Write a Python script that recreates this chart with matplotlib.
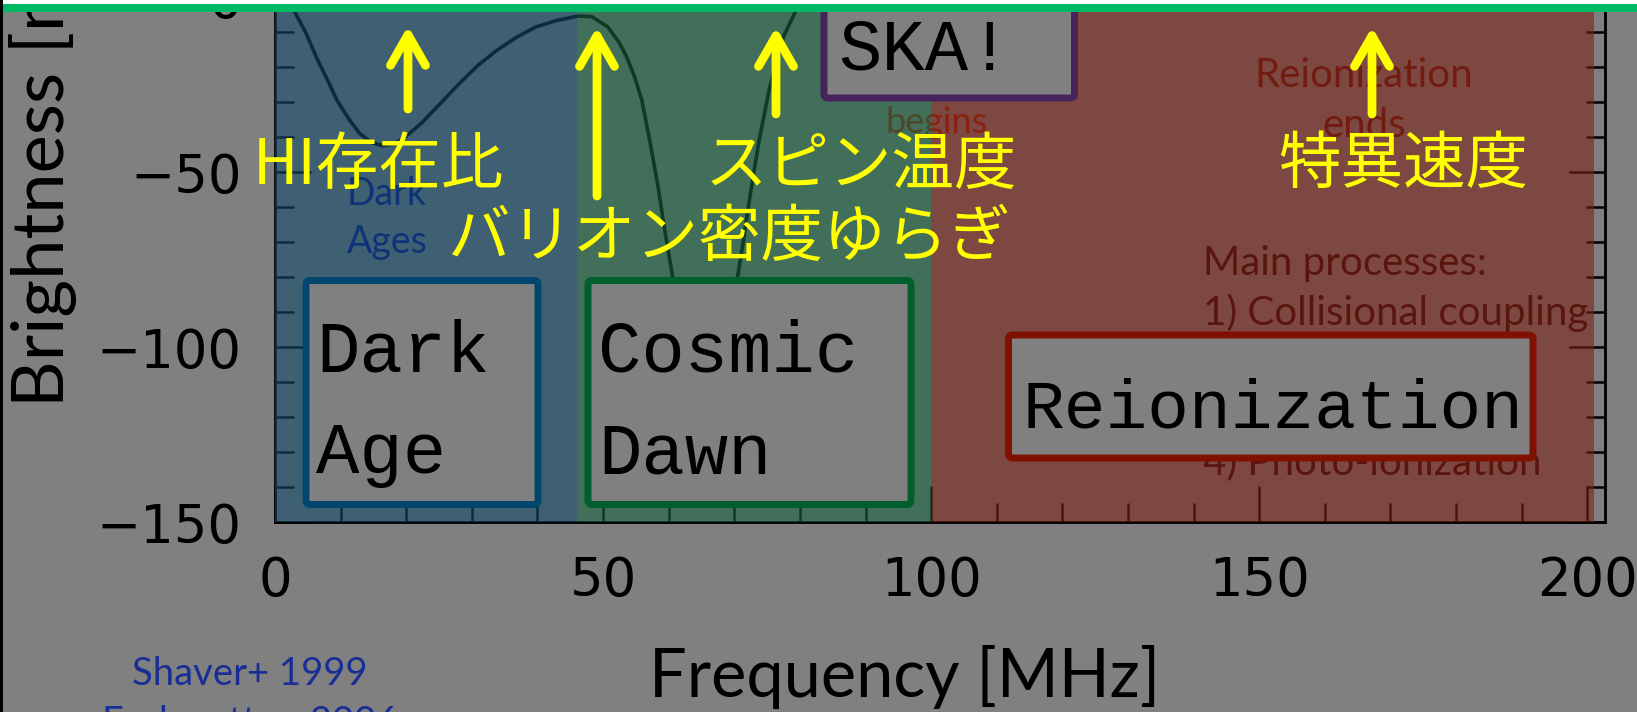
import matplotlib
matplotlib.use("Agg")
import matplotlib.pyplot as plt
from matplotlib.transforms import Affine2D
from matplotlib.patches import FancyBboxPatch, Rectangle, FancyArrowPatch, ArrowStyle
from matplotlib.ticker import MultipleLocator

# ---------------- data ----------------
freq_mhz = [0, 3.0, 4.75, 6.5, 8.25, 9.4, 11.2, 12.9, 14.7, 16.4, 18.2, 19.9, 22.3,
            25.2, 28.1, 31.0, 33.9, 36.8, 39.8, 42.7, 46.2, 48.3, 50.7, 52.4, 53.6,
            54.8, 55.9, 57.1, 58.3, 59.4, 60.6, 63.0, 65.5, 68.0, 70.5, 71.4, 72.3,
            73.7, 75.2, 76.3, 77.5, 79.3, 82, 90, 100, 120, 140, 160, 180, 200]
brightness_mk = [5, -4.1, -10.3, -17.9, -24.6, -29.3, -34.6, -38.9, -41.5, -42.4,
                 -41.9, -39.8, -36.0, -30.3, -24.6, -19.3, -15.0, -11.4, -8.4, -6.7,
                 -5.3, -5.5, -8.4, -12.7, -17.0, -22.7, -29.3, -40.8, -53.2, -66.5,
                 -79.9, -100, -112, -100, -79.9, -69.4, -57.9, -41.7, -27.4, -18.9,
                 -11.2, -4.1, 3, 15, 25, 22, 15, 8, 4, 2]
epoch_edges = [0, 46, 100, 201]
epoch_colors = ["#14496A", "#1A6441", "#7C2417"]
x_major = [0, 50, 100, 150, 200]
y_major = [-150, -100, -50, 0]
x_label = "Frequency [MHz]"
y_label = "Brightness [mK]"
box_labels = ["Dark\nAge", "Cosmic\nDawn", "Reionization", "SKA!"]
jp_labels = ["HI存在比", "バリオン密度ゆらぎ", "スピン温度", "特異速度"]
refs = ["Shaver+ 1999", "Furlanetto+ 2006"]

W, H = 1637, 712
fig = plt.figure(figsize=(W / 100, H / 100), dpi=100, facecolor="#808080")
PX = Affine2D().scale(1 / W, -1 / H).translate(0, 1) + fig.transFigure

px_per_unit_y = 3.497
ylim = (-150, 10)
ax = fig.add_axes([275 / W, (H - 522) / H, (1605 - 275) / W,
                   (ylim[1] - ylim[0]) * px_per_unit_y / H])
ax.set_facecolor("#808080")
ax.set_xlim(0, 202.7)
ax.set_ylim(*ylim)

# curve (under translucent epoch overlays)
ax.plot(freq_mhz, brightness_mk, color="black", lw=2.6, zorder=2,
        solid_joinstyle="round")

for i, c in enumerate(epoch_colors):
    ax.axvspan(epoch_edges[i], epoch_edges[i + 1], color=c, alpha=0.6, lw=0, zorder=3)

ax.set_xticks(x_major)
ax.set_yticks(y_major)
ax.xaxis.set_minor_locator(MultipleLocator(10))
ax.yaxis.set_minor_locator(MultipleLocator(10))
ax.tick_params(which="both", direction="in", top=True, right=True, width=1.8,
               colors="black", labelsize=38, pad=24)
ax.tick_params(which="major", length=26)
ax.tick_params(which="minor", length=14)
for lab in ax.get_xticklabels() + ax.get_yticklabels():
    lab.set_fontfamily("DejaVu Sans")
for s in ax.spines.values():
    s.set_linewidth(2)

# axis titles
fig.text(64 / W, 1 - 407 / H, y_label, rotation=90, rotation_mode="anchor",
         ha="left", va="baseline", fontsize=52, family="Lato", color="black")
fig.text(905 / W, 1 - 697 / H, x_label, ha="center", va="baseline",
         fontsize=48, family="Lato", color="black")

# slide texts underneath the translucent overlays
def under_text(x, y, s, color, size, ha="center"):
    ax.text(x, y, s, transform=PX, ha=ha, va="baseline", fontsize=size,
            family="Lato", color=color, zorder=2.8, clip_on=False)

under_text(387, 205, "Dark", "#0A148C", 27)
under_text(387, 253, "Ages", "#0A148C", 27)
under_text(937, 133, "begins", "#9B1E08", 26)
under_text(1364, 87, "Reionization", "#65100A", 29)
under_text(1364, 137, "ends", "#65100A", 29)
under_text(1203, 275, "Main processes:", "#280000", 29, ha="left")
under_text(1203, 325, "1) Collisional coupling", "#280000", 29, ha="left")
under_text(1203, 475, "4) Photo-ionization", "#280000", 29, ha="left")

# labelled boxes
def box(x0, y0, x1, y1, ec):
    p = FancyBboxPatch((x0, y0), x1 - x0, y1 - y0,
                       boxstyle="round,pad=0,rounding_size=4", transform=PX,
                       fc="#808080", ec=ec, lw=5, zorder=4, clip_on=False)
    ax.add_patch(p)

box(306, 280.5, 538, 504.5, "#00466E")
box(588, 280.5, 911, 504.5, "#005F2D")
box(1008.5, 335, 1533, 458, "#801000")
box(824, -30, 1074.5, 98, "#44245A")

def box_text(x, y, s, size=50):
    ax.text(x, y, s, transform=PX, ha="left", va="baseline", fontsize=size,
            family="Liberation Mono", color="black", zorder=5, clip_on=False)

dark1, dark2 = box_labels[0].split("\n")
cos1, cos2 = box_labels[1].split("\n")
box_text(316, 372, dark1, 52)
box_text(316, 473, dark2, 52)
box_text(598, 372, cos1, 52)
box_text(598, 473, cos2, 52)
box_text(1022, 428, box_labels[2])
box_text(838, 70, box_labels[3], 52)

# yellow arrows and Japanese annotations
yellow = "#FFFF00"
style = ArrowStyle("->", head_length=1.1, head_width=0.63)
for x, ybot, ytip in [(408, 109, 26), (597, 196, 27), (776, 114, 27), (1372, 114, 27)]:
    a = FancyArrowPatch((x, ybot), (x, ytip), transform=PX, arrowstyle=style,
                        mutation_scale=20, lw=6.3, color=yellow, shrinkA=0, shrinkB=0,
                        capstyle="round", joinstyle="round", zorder=6, clip_on=False)
    ax.add_patch(a)

jp_font = ["Noto Sans CJK JP", "DejaVu Sans"]
for (x, y), s in zip([(378, 166), (729, 238), (861, 166), (1403, 165)], jp_labels):
    ax.text(x, y, s, transform=PX, ha="center", va="center", fontsize=45,
            family=jp_font, color=yellow, zorder=7, clip_on=False)

# references
fig.text(250 / W, 1 - 685 / H, refs[0], ha="center", va="baseline", fontsize=27.5,
         family="Lato", color="#192D96")
fig.text(250 / W, 1 - 734 / H, refs[1], ha="center", va="baseline", fontsize=27.5,
         family="Lato", color="#192D96")

# slide frame: white strip, green rule, left dark edge
fig.add_artist(Rectangle((0, 0), W, 4, transform=PX, fc="white", ec="none", zorder=20))
fig.add_artist(Rectangle((0, 4), W, 8, transform=PX, fc="#00B964", ec="none", zorder=21))
fig.add_artist(Rectangle((0, 0), 3, H, transform=PX, fc="black", ec="none", zorder=21))

fig.savefig("out.png", dpi=100, facecolor=fig.get_facecolor())
